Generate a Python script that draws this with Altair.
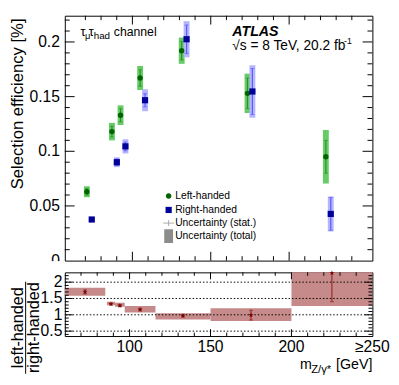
import altair as alt
import pandas as pd

# ---------------- data ----------------
bin_lo = [60, 86, 91, 97, 116, 150, 200]
bin_hi = [85, 91, 97, 116, 150, 200, 250]
bin_center = [72.5, 88.5, 94, 106.5, 133, 175, 225]

lh_eff = [0.063, 0.118, 0.133, 0.167, 0.192, 0.153, 0.095]
lh_stat = [0.003, 0.005, 0.006, 0.0075, 0.0085, 0.014, 0.015]
lh_tot = [0.005, 0.008, 0.009, 0.011, 0.012, 0.018, 0.0245]

rh_eff = [0.0376, 0.090, 0.1045, 0.1467, 0.2025, 0.1547, 0.0427]
rh_stat = [0.0015, 0.003, 0.004, 0.006, 0.013, 0.021, 0.015]
rh_tot = [0.002, 0.0045, 0.0065, 0.010, 0.0165, 0.024, 0.016]

ratio = [1.70, 1.33, 1.28, 1.16, 0.97, 0.99, 2.28]
ratio_stat_lo = [1.64, 1.30, 1.25, 1.12, 0.93, 0.84, 1.40]
ratio_stat_hi = [1.76, 1.36, 1.31, 1.20, 1.01, 1.14, 3.15]
ratio_tot_lo = [1.58, 1.29, 1.25, 1.07, 0.86, 0.81, 1.27]
ratio_tot_hi = [1.83, 1.40, 1.37, 1.27, 1.05, 1.20, 3.30]

legend_labels = ["Left-handed", "Right-handed", "Uncertainty (stat.)", "Uncertainty (total)"]

top_y_labels = [0, 0.05, 0.1, 0.15, 0.2]
top_y_major = [0.05, 0.1, 0.15, 0.2]
top_y_minor = [0.01, 0.02, 0.03, 0.04, 0.06, 0.07, 0.08, 0.09, 0.11, 0.12, 0.13,
               0.14, 0.16, 0.17, 0.18, 0.19, 0.21, 0.22]
x_labels = [100, 150, 200, 250]
x_label_text = ["100", "150", "200", "≥250"]
x_major = [100, 150, 200]
x_minor = [70, 80, 90, 110, 120, 130, 140, 160, 170, 180, 190, 210, 220, 230, 240]
r_y_labels = [0.5, 1, 1.5, 2]
r_y_minor = [0.4, 0.6, 0.7, 0.8, 0.9, 1.1, 1.2, 1.3, 1.4, 1.6, 1.7, 1.8, 1.9,
             2.1, 2.2]

# ---------------- style ----------------
FONT = "Liberation Sans"
W, H1, H2 = 314, 250, 65
GREEN = "#006400"
GREEN_BAND = "#66cc66"
GREEN_LINE = "#2f8f2f"
BLUE = "#000099"
BLUE_BAND = "#b4b4ff"
BLUE_LINE = "#5c5cff"
RED_BAND = "#c68a8a"
RED = "#7a0000"
RED_LINE = "#8b1a1a"
OFF = 2.5

xs = alt.Scale(domain=[60, 250], nice=False, zero=False)
ys1 = alt.Scale(domain=[0, 0.224], nice=False, zero=False)
ys2 = alt.Scale(domain=[0.35, 2.3], nice=False, zero=False)

one = pd.DataFrame({"k": [0]})

top_df = pd.DataFrame({
    "x": bin_center,
    "lh": lh_eff,
    "lh_s_lo": [v - e for v, e in zip(lh_eff, lh_stat)],
    "lh_s_hi": [v + e for v, e in zip(lh_eff, lh_stat)],
    "lh_t_lo": [v - e for v, e in zip(lh_eff, lh_tot)],
    "lh_t_hi": [v + e for v, e in zip(lh_eff, lh_tot)],
    "rh": rh_eff,
    "rh_s_lo": [v - e for v, e in zip(rh_eff, rh_stat)],
    "rh_s_hi": [v + e for v, e in zip(rh_eff, rh_stat)],
    "rh_t_lo": [v - e for v, e in zip(rh_eff, rh_tot)],
    "rh_t_hi": [v + e for v, e in zip(rh_eff, rh_tot)],
})
lh_caps = pd.DataFrame({"x": bin_center * 2,
                        "y": list(top_df["lh_s_lo"]) + list(top_df["lh_s_hi"])})
rh_caps = pd.DataFrame({"x": bin_center * 2,
                        "y": list(top_df["rh_s_lo"]) + list(top_df["rh_s_hi"])})

X1 = alt.X("x:Q", scale=xs, axis=None)


def text(s, x, y, size, align="left", baseline="alphabetic", **kw):
    return alt.Chart(one).mark_text(font=FONT, fontSize=size, align=align,
                                    baseline=baseline, color="black", **kw).encode(
        x=alt.value(x), y=alt.value(y), text=alt.value(s))


def xticks(values, length, h):
    d = pd.DataFrame({"v": values})
    b = alt.Chart(d).mark_rule(color="black", strokeWidth=1).encode(
        x=alt.X("v:Q", scale=xs, axis=None), y=alt.value(h), y2=alt.value(h - length))
    t = alt.Chart(d).mark_rule(color="black", strokeWidth=1).encode(
        x=alt.X("v:Q", scale=xs, axis=None), y=alt.value(0), y2=alt.value(length))
    return [b, t]


def yticks(values, length, scale):
    d = pd.DataFrame({"v": values})
    l = alt.Chart(d).mark_rule(color="black", strokeWidth=1).encode(
        y=alt.Y("v:Q", scale=scale, axis=None), x=alt.value(0), x2=alt.value(length))
    r = alt.Chart(d).mark_rule(color="black", strokeWidth=1).encode(
        y=alt.Y("v:Q", scale=scale, axis=None), x=alt.value(W), x2=alt.value(W - length))
    return [l, r]


def ylabels(values, scale, size, pad):
    d = pd.DataFrame({"v": values, "lab": [str(v) for v in values]})
    return alt.Chart(d).mark_text(font=FONT, fontSize=size, align="right",
                                  baseline="middle", color="black").encode(
        y=alt.Y("v:Q", scale=scale, axis=None), x=alt.value(-pad), text="lab:N")


# ---------------- top panel ----------------
tb = alt.Chart(top_df)
top_layers = [
    tb.mark_bar(size=6, color=GREEN_BAND, xOffset=-OFF).encode(
        x=X1, y=alt.Y("lh_t_lo:Q", scale=ys1, axis=None), y2="lh_t_hi:Q"),
    tb.mark_bar(size=6, color=BLUE_BAND, xOffset=OFF).encode(
        x=X1, y=alt.Y("rh_t_lo:Q", scale=ys1, axis=None), y2="rh_t_hi:Q"),
    tb.mark_rule(color=GREEN_LINE, strokeWidth=1.2, xOffset=-OFF).encode(
        x=X1, y=alt.Y("lh_s_lo:Q", scale=ys1, axis=None), y2="lh_s_hi:Q"),
    alt.Chart(lh_caps).mark_point(shape="stroke", size=16, color=GREEN_LINE,
                                  strokeWidth=1, xOffset=-OFF).encode(
        x=X1, y=alt.Y("y:Q", scale=ys1, axis=None)),
    tb.mark_rule(color=BLUE_LINE, strokeWidth=1.2, xOffset=OFF).encode(
        x=X1, y=alt.Y("rh_s_lo:Q", scale=ys1, axis=None), y2="rh_s_hi:Q"),
    alt.Chart(rh_caps).mark_point(shape="stroke", size=16, color=BLUE_LINE,
                                  strokeWidth=1, xOffset=OFF).encode(
        x=X1, y=alt.Y("y:Q", scale=ys1, axis=None)),
    tb.mark_point(shape="circle", filled=True, size=30, color=GREEN, opacity=1,
                  xOffset=-OFF).encode(x=X1, y=alt.Y("lh:Q", scale=ys1, axis=None)),
    tb.mark_point(shape="square", filled=True, size=40, color=BLUE, opacity=1,
                  xOffset=OFF).encode(x=X1, y=alt.Y("rh:Q", scale=ys1, axis=None)),
]
top_layers += xticks(x_major, 9, H1) + xticks(x_minor, 4.5, H1)
top_layers += yticks(top_y_major, 10, ys1) + yticks(top_y_minor, 5, ys1)
top_layers.append(ylabels(top_y_labels, ys1, 16, 5))

# legend
top_layers += [
    alt.Chart(one).mark_point(shape="circle", filled=True, size=30, color=GREEN,
                              opacity=1).encode(x=alt.value(106), y=alt.value(184)),
    alt.Chart(one).mark_point(shape="square", filled=True, size=40, color=BLUE,
                              opacity=1).encode(x=alt.value(106), y=alt.value(198.3)),
    alt.Chart(one).mark_rule(color="#aaaaaa", strokeWidth=1).encode(
        x=alt.value(100.5), x2=alt.value(111.5), y=alt.value(211.7)),
    alt.Chart(one).mark_rule(color="#aaaaaa", strokeWidth=1).encode(
        x=alt.value(106), y=alt.value(208.7), y2=alt.value(214.7)),
    alt.Chart(one).mark_rect(color="#8c8c8c").encode(
        x=alt.value(101.5), x2=alt.value(110.5), y=alt.value(218), y2=alt.value(232)),
]
for lab, yy in zip(legend_labels, [184, 198.3, 211.7, 225]):
    top_layers.append(text(lab, 112.7, yy, 10.5, baseline="middle"))

# annotations
top_layers += [
    text("τ", 16, 20.7, 13),
    text("μ", 20.5, 24, 9.5),
    text("τ", 24.5, 20.7, 13),
    text("had", 29.5, 24, 10),
    text("channel", 50, 20.7, 12.5),
    text("ATLAS", 171, 20.3, 14.5, fontStyle="italic", fontWeight="bold"),
    text("√s = 8 TeV, 20.2 fb", 171, 34.5, 14),
    text("-1", 285, 28.5, 9),
    text("Selection efficiency [%]", -47.5, 90, 17, align="center",
         baseline="middle", angle=270),
]
top = alt.layer(*top_layers).properties(width=W, height=H1)

# ---------------- ratio panel ----------------
r_df = pd.DataFrame({
    "lo": bin_lo, "hi": bin_hi, "x": bin_center, "r": ratio,
    "s_lo": ratio_stat_lo, "s_hi": ratio_stat_hi,
    "t_lo": ratio_tot_lo, "t_hi": ratio_tot_hi,
})
r_caps = pd.DataFrame({"x": bin_center * 2, "y": ratio_stat_lo + ratio_stat_hi})
rb = alt.Chart(r_df)
grid_df = pd.DataFrame({"v": r_y_labels})
xlab_df = pd.DataFrame({"v": x_labels, "lab": x_label_text})

star = ("M0,-1L0.2245,-0.309L0.951,-0.309L0.363,0.118L0.588,0.809L0,0.382"
        "L-0.588,0.809L-0.363,0.118L-0.951,-0.309L-0.2245,-0.309Z")

r_layers = [
    alt.Chart(one).mark_rect(color="white").encode(
        x=alt.value(-30), x2=alt.value(-1), y=alt.value(-11.5), y2=alt.value(-1)),
    rb.mark_rect(color=RED_BAND, clip=True).encode(
        x=alt.X("lo:Q", scale=xs, axis=None), x2="hi:Q",
        y=alt.Y("t_lo:Q", scale=ys2, axis=None), y2="t_hi:Q"),
    alt.Chart(grid_df).mark_rule(color="black", strokeWidth=1, strokeDash=[1.5, 2]).encode(
        y=alt.Y("v:Q", scale=ys2, axis=None)),
    rb.mark_rule(color=RED_LINE, strokeWidth=1, clip=True).encode(
        x=alt.X("x:Q", scale=xs, axis=None),
        y=alt.Y("s_lo:Q", scale=ys2, axis=None), y2="s_hi:Q"),
    alt.Chart(r_caps).mark_point(shape="stroke", size=16, color=RED_LINE, strokeWidth=1,
                                 clip=True).encode(
        x=alt.X("x:Q", scale=xs, axis=None), y=alt.Y("y:Q", scale=ys2, axis=None)),
    rb.mark_point(shape=star, filled=True, size=30, color=RED, opacity=1).encode(
        x=alt.X("x:Q", scale=xs, axis=None), y=alt.Y("r:Q", scale=ys2, axis=None)),
]
r_layers += xticks(x_major, 7, H2) + xticks(x_minor, 3.5, H2)
r_layers += yticks(r_y_labels, 8, ys2) + yticks(r_y_minor, 4, ys2)
r_layers.append(ylabels(r_y_labels, ys2, 16, 2.5))
r_layers.append(
    alt.Chart(xlab_df).mark_text(font=FONT, fontSize=16, align="center",
                                 baseline="alphabetic", color="black").encode(
        x=alt.X("v:Q", scale=xs, axis=None), y=alt.value(81.7), text="lab:N"))
r_layers += [
    text("left-handed", -47.75, 56.5, 16.5, align="center", baseline="middle", angle=270),
    text("right-handed", -31.6, 56.5, 16.5, align="center", baseline="middle", angle=270),
    alt.Chart(one).mark_rule(color="black", strokeWidth=1).encode(
        x=alt.value(-40), y=alt.value(9.5), y2=alt.value(103.5)),
    text("m", 240, 98.7, 14.5),
    text("Z/γ*", 251.5, 103, 11.5),
    text("[GeV]", 314, 98.7, 14.5, align="right"),
]
bottom = alt.layer(*r_layers).properties(width=W, height=H2)

chart = alt.vconcat(top, bottom, spacing=12, bounds="flush").properties(
    padding={"left": 0, "top": 3, "right": 0, "bottom": 0}
).configure(font=FONT).configure_view(stroke="black", strokeWidth=1)

chart.save("out.html", embed_options={"renderer": "svg", "actions": False})
